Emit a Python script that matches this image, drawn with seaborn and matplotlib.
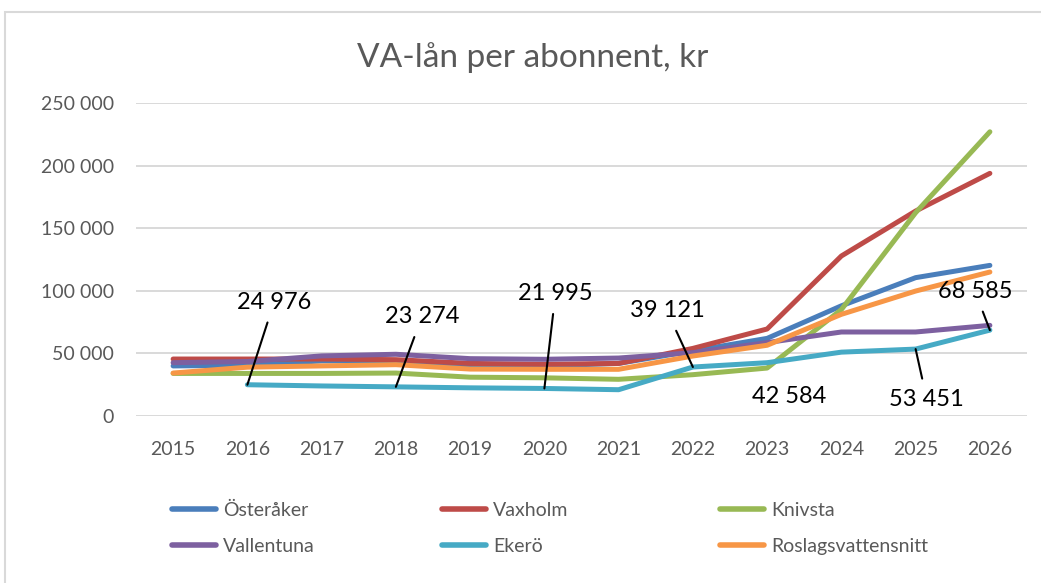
import pandas as pd
import numpy as np
import matplotlib
matplotlib.use('Agg')
import matplotlib.pyplot as plt
import seaborn as sns
from matplotlib.patches import Rectangle
from matplotlib.ticker import FuncFormatter

# Data
years = list(range(2015, 2027))
osteraker = [40000, 40500, 44000, 44000, 40500, 40000, 42000, 52000, 62000, 88000, 110500, 120300]
vaxholm = [45500, 45500, 45500, 45000, 42000, 41300, 42000, 54000, 69500, 127800, 163700, 193800]
knivsta = [34000, 34000, 34000, 34300, 31000, 30500, 29300, 33000, 38300, 85000, 162400, 227000]
vallentuna = [42600, 43500, 48000, 49300, 45800, 45300, 46300, 50600, 58600, 67100, 67100, 72400]
ekero = [np.nan, 24976, 24000, 23274, 22500, 21995, 21000, 39121, 42584, 51000, 53451, 68585]
roslag = [34300, 39000, 40000, 41000, 37500, 37300, 37300, 47900, 56500, 81200, 99800, 115000]

series_names = ["Österåker", "Vaxholm", "Knivsta", "Vallentuna", "Ekerö", "Roslagsvattensnitt"]
series_values = [osteraker, vaxholm, knivsta, vallentuna, ekero, roslag]
colors = ["#4A7EBB", "#BE4B48", "#98B954", "#7D60A0", "#46AAC5", "#F79646"]

# labelled Ekerö points and where the text goes (offsets in years / kr)
label_years = [2016, 2018, 2020, 2022, 2023, 2025, 2026]
label_dx = [0.36, 0.35, 0.15, -0.35, 0.3, 0.15, -0.2]
label_dy = [66000, 56000, 76000, 45000, -27000, -40000, 31000]
label_line = [True, True, True, True, False, True, True]

df = pd.DataFrame({name: vals for name, vals in zip(series_names, series_values)}, index=years)
df.index.name = "year"
long_df = df.reset_index().melt(id_vars="year", var_name="kommun", value_name="kr").dropna()

sns.set_theme(style="white")
plt.rcParams['font.family'] = ['Lato', 'DejaVu Sans']
grey = "#595959"

fig = plt.figure(figsize=(10.41, 5.83), dpi=100)
ax = fig.add_axes([136 / 1041, 1 - 416 / 583, (1027 - 136) / 1041, (416 - 103) / 583])

sns.lineplot(data=long_df, x="year", y="kr", hue="kommun", hue_order=series_names,
             palette=colors, linewidth=3.6, ax=ax, legend=True,
             solid_capstyle="round", solid_joinstyle="round")

ax.set_xlim(2014.5, 2026.5)
ax.set_ylim(0, 250000)
ax.set_yticks(range(0, 250001, 50000))
ax.set_xticks(years)
ax.yaxis.set_major_formatter(FuncFormatter(lambda v, p: f"{v:,.0f}".replace(",", " ")))
ax.tick_params(axis="both", length=0, labelsize=14, colors=grey)
ax.tick_params(axis="y", pad=16)
ax.tick_params(axis="x", pad=18)
ax.grid(axis="y", color="#D9D9D9", linewidth=1.4)
ax.set_axisbelow(True)
for s in ax.spines.values():
    s.set_visible(False)
ax.set_xlabel("")
ax.set_ylabel("")

# data labels for Ekerö
for yr, dx, dy, line in zip(label_years, label_dx, label_dy, label_line):
    val = df.loc[yr, "Ekerö"]
    txt = f"{val:,.0f}".replace(",", " ")
    ax.annotate(txt, xy=(yr, val), xytext=(yr + dx, val + dy),
                ha="center", va="center", fontsize=17, color="black",
                arrowprops=dict(arrowstyle="-", color="black", lw=1.5,
                                shrinkA=5, shrinkB=0) if line else None)

# legend below: one small legend per column so columns are evenly spaced
handles, labels = ax.get_legend_handles_labels()
ax.legend_.remove()
col_x = [154, 424, 702]
for c, x in enumerate(col_x):
    leg = fig.legend([handles[c], handles[c + 3]], [labels[c], labels[c + 3]],
                     ncol=1, frameon=False, loc="upper left",
                     bbox_to_anchor=(x / 1041, 1 - 484 / 583),
                     fontsize=14, handlelength=2.3, handletextpad=0.35,
                     labelspacing=1.0, labelcolor=grey)
    for h in leg.get_lines():
        h.set_linewidth(4)

fig.text(533 / 1041, 1 - 58 / 583, "VA-lån per abonnent, kr", ha="center", va="center",
         fontsize=24, color=grey)

# chart area border
fig.patches.append(Rectangle((5 / 1041, -0.05), 1.1, 1 - 12 / 583 + 0.05,
                             transform=fig.transFigure, fill=False,
                             edgecolor="#D9D9D9", linewidth=1.5))

plt.savefig("out.png", dpi=100)
plt.close()
